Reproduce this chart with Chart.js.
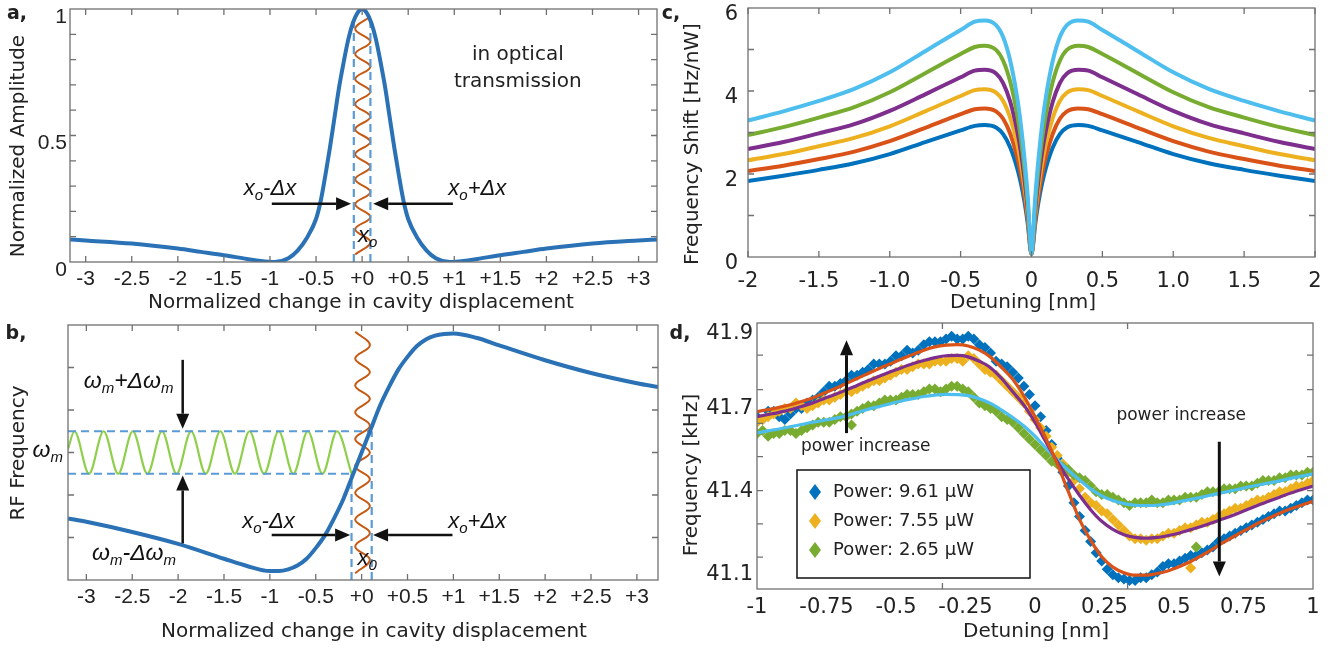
<!DOCTYPE html>
<html>
<head>
<meta charset="utf-8">
<script src="https://cdn.jsdelivr.net/npm/chart.js@4.4.1/dist/chart.umd.min.js"></script>
<style>
  html, body { margin: 0; padding: 0; background: #fff; }
  body { width: 1331px; height: 651px; position: relative; overflow: hidden; }
  canvas { position: absolute; }
</style>
</head>
<body>
<canvas id="panelA"></canvas>
<canvas id="panelB"></canvas>
<canvas id="panelC"></canvas>
<canvas id="panelD"></canvas>
<script>
// ---------- data: panel a (optical transmission) ----------
const aX = [-3.17, -3.0, -2.5, -2.0, -1.75, -1.5, -1.25, -1.1, -0.95, -0.8, -0.7, -0.6, -0.5, -0.45, -0.4, -0.35, -0.3, -0.25, -0.2, -0.15,
            -0.1, -0.05, 0, 0.05, 0.1, 0.15, 0.2, 0.25, 0.3, 0.35, 0.4, 0.45, 0.5, 0.6, 0.7, 0.8, 0.95, 1.1, 1.25, 1.5, 1.75, 2.0, 2.5, 3.0, 3.2]
const aAmp = [0.089, 0.085, 0.073, 0.053, 0.040, 0.027, 0.012, 0.004, 0.000, 0.015, 0.045, 0.095, 0.170, 0.240, 0.340, 0.450, 0.570, 0.690, 0.790, 0.880,
              0.945, 0.985, 1.000, 0.985, 0.945, 0.880, 0.790, 0.690, 0.570, 0.450, 0.340, 0.240, 0.170, 0.095, 0.045, 0.015, 0.000, 0.004, 0.012, 0.027, 0.040, 0.053, 0.073, 0.085, 0.089]
const aWaveX = [-0.075, 0.09, -0.075, 0.09, -0.075, 0.09, -0.075, 0.09, -0.075, 0.09, -0.075, 0.09, -0.075, 0.09, -0.075, 0.09, -0.075, 0.09, -0.075, 0.09]
const aWaveY = [0.03, 0.079, 0.129, 0.178, 0.228, 0.277, 0.327, 0.376, 0.426, 0.475, 0.525, 0.574, 0.624, 0.673, 0.723, 0.772, 0.822, 0.871, 0.921, 0.97]
const aDashX = [-0.09, 0.09]
const aDashY = [0, 0.95]
const abXTicks = [-3, -2.5, -2, -1.5, -1, -0.5, 0, 0.5, 1, 1.5, 2, 2.5, 3]
const abXLabels = ['-3', '-2.5', '-2', '-1.5', '-1', '-0.5', '+0', '+0.5', '+1', '+1.5', '+2', '+2.5', '+3']
const aYTicks = [0, 0.5, 1]
const aYLabels = ['0', '0.5', '1']
const aYMarks = [0.1, 0.2, 0.3, 0.4, 0.5, 0.6, 0.7, 0.8, 0.9]

// ---------- data: panel b (RF frequency) ----------
const bX = [-3.2, -3.0, -2.5, -2.0, -1.5, -1.25, -1.0, -0.9, -0.8, -0.7, -0.6, -0.5, -0.4, -0.3, -0.2, -0.1, 0,
            0.1, 0.2, 0.3, 0.4, 0.5, 0.6, 0.7, 0.8, 0.9, 1.0, 1.25, 1.5, 2.0, 2.5, 3.0, 3.23]
const bFreq = [1.45, 1.37, 1.13, 0.85, 0.50, 0.33, 0.21, 0.21, 0.25, 0.34, 0.50, 0.75, 1.05, 1.45, 1.90, 2.45, 3.00,
               3.55, 4.10, 4.55, 4.95, 5.25, 5.50, 5.66, 5.75, 5.79, 5.80, 5.70, 5.52, 5.17, 4.87, 4.63, 4.54]
const bWaveX = [-0.07, 0.09, -0.07, 0.09, -0.07, 0.09, -0.07, 0.09, -0.07, 0.09, -0.07, 0.09, -0.07, 0.09, -0.07, 0.09, -0.07, 0.09, -0.07]
const bWaveY = [0.16, 0.476, 0.791, 1.107, 1.422, 1.738, 2.053, 2.369, 2.684, 3.0, 3.316, 3.631, 3.947, 4.262, 4.578, 4.893, 5.209, 5.524, 5.84]
const bGreenX = [-3.2, -3.13, -2.971, -2.812, -2.653, -2.494, -2.335, -2.176, -2.017, -1.858, -1.699,
                 -1.540, -1.381, -1.222, -1.063, -0.904, -0.745, -0.586, -0.427, -0.268, -0.109]
const bGreenY = [3.08, 3.5, 2.5, 3.5, 2.5, 3.5, 2.5, 3.5, 2.5, 3.5, 2.5, 3.5, 2.5, 3.5, 2.5, 3.5, 2.5, 3.5, 2.5, 3.5, 2.5]
const bLevels = [2.5, 3.5]          // omega_m - d omega, omega_m + d omega
const bEdgeX = [-0.11, 0.11]        // x_o - dx, x_o + dx
const bYMarks = [1, 2, 3, 4, 5]

// ---------- data: panel c (frequency shift vs detuning) ----------
const cX = [-2, -1.75, -1.5, -1.25, -1, -0.75, -0.5, -0.4, -0.33, -0.25, -0.2, -0.15, -0.1, -0.075, -0.05, -0.025, -0.01, 0,
            0.01, 0.025, 0.05, 0.075, 0.1, 0.15, 0.2, 0.25, 0.33, 0.4, 0.5, 0.75, 1, 1.25, 1.5, 1.75, 2]
const cBlue = [1.83, 1.96, 2.10, 2.26, 2.48, 2.77, 3.05, 3.16, 3.18, 3.12, 2.96, 2.64, 2.13, 1.78, 1.34, 0.76, 0.25, 0.08,
               0.25, 0.76, 1.34, 1.78, 2.13, 2.64, 2.96, 3.12, 3.18, 3.16, 3.05, 2.77, 2.48, 2.26, 2.10, 1.96, 1.83]
const cOrange = [2.07, 2.20, 2.36, 2.54, 2.79, 3.11, 3.44, 3.56, 3.58, 3.51, 3.33, 2.97, 2.40, 2.00, 1.50, 0.86, 0.29, 0.08,
                 0.29, 0.86, 1.50, 2.00, 2.40, 2.97, 3.33, 3.51, 3.58, 3.56, 3.44, 3.11, 2.79, 2.54, 2.36, 2.20, 2.07]
const cYellow = [2.33, 2.48, 2.67, 2.87, 3.15, 3.51, 3.88, 4.02, 4.04, 3.96, 3.76, 3.35, 2.71, 2.26, 1.70, 0.97, 0.32, 0.08,
                 0.32, 0.97, 1.70, 2.26, 2.71, 3.35, 3.76, 3.96, 4.04, 4.02, 3.88, 3.51, 3.15, 2.87, 2.67, 2.48, 2.33]
const cPurple = [2.60, 2.77, 2.98, 3.20, 3.52, 3.92, 4.33, 4.49, 4.51, 4.42, 4.19, 3.74, 3.02, 2.53, 1.89, 1.08, 0.36, 0.08,
                 0.36, 1.08, 1.89, 2.53, 3.02, 3.74, 4.19, 4.42, 4.51, 4.49, 4.33, 3.92, 3.52, 3.20, 2.98, 2.77, 2.60]
const cGreen = [2.94, 3.13, 3.36, 3.61, 3.97, 4.43, 4.89, 5.06, 5.09, 4.99, 4.73, 4.22, 3.41, 2.85, 2.14, 1.22, 0.41, 0.08,
                0.41, 1.22, 2.14, 2.85, 3.41, 4.22, 4.73, 4.99, 5.09, 5.06, 4.89, 4.43, 3.97, 3.61, 3.36, 3.13, 2.94]
const cCyan = [3.29, 3.51, 3.76, 4.05, 4.45, 4.96, 5.47, 5.67, 5.70, 5.59, 5.30, 4.73, 3.82, 3.19, 2.39, 1.37, 0.46, 0.08,
               0.46, 1.37, 2.39, 3.19, 3.82, 4.73, 5.30, 5.59, 5.70, 5.67, 5.47, 4.96, 4.45, 4.05, 3.76, 3.51, 3.29]
const cXTicks = [-2, -1.5, -1, -0.5, 0, 0.5, 1, 1.5, 2]
const cXLabels = ['-2', '-1.5', '-1.0', '-0.5', '0', '0.5', '1.0', '1.5', '2']
const cYTicks = [0, 2, 4, 6]
const cYLabels = ['0', '2', '4', '6']
const cYMarks = [1, 2, 3, 4, 5]

// ---------- data: panel d (measured frequency, kHz) ----------
const dX = [-1, -0.96, -0.92, -0.88, -0.84, -0.8, -0.76, -0.72, -0.68, -0.64, -0.6, -0.56, -0.52, -0.48, -0.44, -0.4, -0.36, -0.32, -0.28, -0.24,
            -0.2, -0.16, -0.12, -0.08, -0.04, 0, 0.04, 0.08, 0.12, 0.16, 0.2, 0.24, 0.28, 0.32, 0.36, 0.4, 0.44, 0.48, 0.52, 0.56,
            0.6, 0.64, 0.68, 0.72, 0.76, 0.8, 0.84, 0.88, 0.92, 0.96, 1]
const dBlue = [41.67, 41.69, 41.67, 41.68, 41.70, 41.73, 41.76, 41.78, 41.80, 41.82, 41.84, 41.86, 41.87, 41.89, 41.90, 41.93, 41.94, 41.95, 41.95, 41.96,
               41.93, 41.90, 41.86, 41.83, 41.78, 41.71, 41.62, 41.52, 41.42, 41.31, 41.22, 41.15, 41.10, 41.085, 41.08, 41.09, 41.11, 41.14, 41.15, 41.17,
               41.18, 41.20, 41.23, 41.25, 41.27, 41.29, 41.31, 41.33, 41.34, 41.36, 41.37]
const dYellow = [41.65, 41.67, 41.69, 41.70, 41.71, 41.71, 41.73, 41.74, 41.76, 41.77, 41.79, 41.80, 41.82, 41.84, 41.85, 41.86, 41.87, 41.87, 41.88, 41.89,
                 41.86, 41.83, 41.80, 41.76, 41.72, 41.66, 41.60, 41.53, 41.47, 41.41, 41.36, 41.33, 41.30, 41.26, 41.23, 41.225, 41.23, 41.25, 41.26, 41.27,
                 41.29, 41.30, 41.32, 41.34, 41.35, 41.37, 41.38, 41.40, 41.41, 41.42, 41.44]
const dGreen = [41.61, 41.60, 41.61, 41.62, 41.62, 41.64, 41.65, 41.66, 41.67, 41.69, 41.71, 41.72, 41.73, 41.74, 41.75, 41.76, 41.77, 41.77, 41.78, 41.76,
                41.72, 41.70, 41.67, 41.65, 41.61, 41.57, 41.53, 41.50, 41.48, 41.45, 41.42, 41.39, 41.38, 41.36, 41.36, 41.36, 41.36, 41.37, 41.37, 41.38,
                41.39, 41.40, 41.41, 41.41, 41.42, 41.43, 41.44, 41.45, 41.46, 41.46, 41.47]
// second sweep of samples, taken between the first ones
const dX2 = [-0.98, -0.94, -0.9, -0.86, -0.82, -0.78, -0.74, -0.7, -0.66, -0.62, -0.58, -0.54, -0.5, -0.46, -0.42, -0.38, -0.34, -0.3, -0.26, -0.22,
             -0.18, -0.14, -0.1, -0.06, -0.02, 0.02, 0.06, 0.1, 0.14, 0.18, 0.22, 0.26, 0.3, 0.34, 0.38, 0.42, 0.46, 0.5, 0.54, 0.58,
             0.62, 0.66, 0.7, 0.74, 0.78, 0.82, 0.86, 0.9, 0.94, 0.98]
const dBlue2 = [41.66, 41.69, 41.66, 41.70, 41.72, 41.74, 41.78, 41.79, 41.82, 41.83, 41.86, 41.86, 41.89, 41.91, 41.91, 41.94, 41.94, 41.96, 41.95, 41.95,
                41.92, 41.87, 41.85, 41.81, 41.75, 41.67, 41.57, 41.47, 41.36, 41.26, 41.18, 41.12, 41.09, 41.08, 41.09, 41.10, 41.13, 41.14, 41.16, 41.17,
                41.19, 41.22, 41.24, 41.26, 41.28, 41.30, 41.32, 41.33, 41.35, 41.37]
const dYellow2 = [41.66, 41.68, 41.70, 41.72, 41.70, 41.72, 41.73, 41.75, 41.76, 41.78, 41.80, 41.81, 41.83, 41.84, 41.86, 41.86, 41.87, 41.88, 41.87, 41.88,
                  41.84, 41.82, 41.78, 41.74, 41.69, 41.63, 41.56, 41.50, 41.44, 41.38, 41.35, 41.32, 41.28, 41.24, 41.23, 41.23, 41.24, 41.25, 41.27, 41.28,
                  41.29, 41.31, 41.33, 41.34, 41.36, 41.37, 41.39, 41.40, 41.42, 41.43]
const dGreen2 = [41.62, 41.61, 41.62, 41.61, 41.63, 41.65, 41.65, 41.67, 41.68, 41.70, 41.71, 41.73, 41.73, 41.75, 41.75, 41.77, 41.76, 41.78, 41.77, 41.74,
                 41.71, 41.69, 41.66, 41.63, 41.59, 41.55, 41.51, 41.49, 41.46, 41.44, 41.40, 41.39, 41.37, 41.35, 41.36, 41.37, 41.36, 41.37, 41.38, 41.38,
                 41.40, 41.40, 41.41, 41.42, 41.42, 41.44, 41.44, 41.45, 41.46, 41.47]
const dStrayYellowX = [0.56]
const dStrayYellowY = [41.125]
const dStrayGreenX = [-0.66, 0.58]
const dStrayGreenY = [41.64, 41.20]
const dFitOrange = [41.688, 41.696, 41.704, 41.713, 41.725, 41.738, 41.755, 41.771, 41.789, 41.808, 41.826, 41.844, 41.861, 41.878, 41.894, 41.910, 41.922, 41.928, 41.930, 41.925,
                    41.910, 41.885, 41.848, 41.805, 41.745, 41.670, 41.590, 41.500, 41.400, 41.300, 41.225, 41.165, 41.128, 41.108, 41.099, 41.099, 41.105, 41.115, 41.130, 41.148,
                    41.170, 41.194, 41.218, 41.241, 41.263, 41.285, 41.304, 41.322, 41.338, 41.352, 41.365]
const dFitPurple = [41.670, 41.678, 41.686, 41.695, 41.707, 41.720, 41.735, 41.750, 41.766, 41.783, 41.800, 41.816, 41.832, 41.847, 41.861, 41.873, 41.883, 41.890, 41.891, 41.886,
                    41.870, 41.847, 41.808, 41.760, 41.712, 41.650, 41.578, 41.508, 41.445, 41.387, 41.335, 41.293, 41.264, 41.245, 41.235, 41.232, 41.235, 41.242, 41.251, 41.263,
                    41.275, 41.289, 41.303, 41.318, 41.334, 41.350, 41.365, 41.380, 41.395, 41.408, 41.420]
const dFitCyan = [41.612, 41.619, 41.626, 41.634, 41.642, 41.650, 41.657, 41.664, 41.673, 41.685, 41.697, 41.707, 41.717, 41.727, 41.735, 41.743, 41.748, 41.751, 41.750, 41.746,
                  41.735, 41.718, 41.694, 41.667, 41.637, 41.600, 41.556, 41.515, 41.477, 41.442, 41.410, 41.385, 41.368, 41.357, 41.351, 41.350, 41.351, 41.356, 41.364, 41.372,
                  41.380, 41.389, 41.398, 41.406, 41.415, 41.423, 41.431, 41.439, 41.448, 41.456, 41.464]
const dLegend = ['Power: 9.61 μW', 'Power: 7.55 μW', 'Power: 2.65 μW']
const dXTicks = [-1, -0.75, -0.5, -0.25, 0, 0.25, 0.5, 0.75, 1]
const dXLabels = ['-1', '-0.75', '-0.5', '-0.25', '0', '0.25', '0.5', '0.75', '1']
// the reference prints its top label "41.9" right under the frame top
const dYTicks = [41.1, 41.4, 41.7, 41.97]
const dYLabels = ['41.1', '41.4', '41.7', '41.9']
const dXMarks = [-0.333, 0.333]
const dYMarks = [41.164, 41.284, 41.404, 41.526, 41.646, 41.768, 41.892]

// ---------- layout (page pixels): canvas box [left, top, w, h], plot area [l, t, r, b] ----------
const layA = {box: [0, -20, 690, 345], area: [70, 9, 657, 262]}
const layB = {box: [0, 300, 690, 355], area: [68, 325, 658, 580]}
const layC = {box: [650, -20, 690, 345], area: [748, 8, 1315, 257]}
const layD = {box: [650, 300, 690, 355], area: [757, 323, 1313, 589]}

const SANS = "'DejaVu Sans', sans-serif"
const ARIAL = "'Liberation Sans', Arial, sans-serif"
const INK = '#222'
const COL = {blue: '#0072BD', orange: '#D95319', yellow: '#EDB120', purple: '#7E2F8E', green: '#77AC30', cyan: '#4DBEEE'}

function pts(xs, ys) {
    return xs.map((x, i) => ({x: x, y: ys[i]}))
}

function lineSet(xs, ys, color, width, extra) {
    return Object.assign({
        data: pts(xs, ys), showLine: true, borderColor: color, borderWidth: width,
        pointRadius: 0, fill: false, cubicInterpolationMode: 'monotone'
    }, extra || {})
}

function dashSet(xs, ys) {
    return lineSet(xs, ys, '#5b9bd5', 2.2, {cubicInterpolationMode: 'default', tension: 0, borderDash: [8, 5]})
}

function axis(min, max, ticks, labels, font, pad, offset) {
    return {
        type: 'linear', min: min, max: max,
        afterBuildTicks: s => { s.ticks = ticks.map(v => ({value: v})) },
        grid: {display: false, drawTicks: false},
        border: {display: false},
        ticks: {
            display: labels.length > 0, autoSkip: false, maxRotation: 0, padding: pad,
            labelOffset: offset || 0, color: INK, font: font,
            callback: (v, i) => labels[i]
        }
    }
}

function arrow(ctx, x1, y1, x2, y2, w) {
    const ang = Math.atan2(y2 - y1, x2 - x1), hl = 15, hw = 6.5
    const c = Math.cos(ang), s = Math.sin(ang)
    ctx.lineWidth = w
    ctx.beginPath()
    ctx.moveTo(x1, y1)
    ctx.lineTo(x2 - hl * c, y2 - hl * s)
    ctx.stroke()
    ctx.beginPath()
    ctx.moveTo(x2, y2)
    ctx.lineTo(x2 - hl * c + hw * s, y2 - hl * s - hw * c)
    ctx.lineTo(x2 - hl * c - hw * s, y2 - hl * s + hw * c)
    ctx.closePath()
    ctx.fill()
}

// parts: [text, size, baseline shift]
function mathText(ctx, parts, x, y, align) {
    let w = 0
    parts.forEach(p => { ctx.font = 'italic ' + p[1] + 'px ' + ARIAL; w += ctx.measureText(p[0]).width })
    let cx = align === 'center' ? x - w / 2 : (align === 'right' ? x - w : x)
    ctx.textAlign = 'left'
    ctx.textBaseline = 'alphabetic'
    parts.forEach(p => {
        ctx.font = 'italic ' + p[1] + 'px ' + ARIAL
        ctx.fillText(p[0], cx, y + p[2])
        cx += ctx.measureText(p[0]).width
    })
}

function pageText(ctx, box, text, px, py, font, align, rot) {
    ctx.save()
    ctx.font = font
    ctx.fillStyle = INK
    ctx.textAlign = align || 'center'
    ctx.textBaseline = 'middle'
    ctx.translate(px - box[0], py - box[1])
    if (rot) ctx.rotate(-Math.PI / 2)
    ctx.fillText(text, 0, 0)
    ctx.restore()
}

function framePlugin(xMarks, yMarks, drawExtra) {
    return {
        id: 'frame',
        afterDatasetsDraw(chart) {
            const ctx = chart.ctx, a = chart.chartArea, sx = chart.scales.x, sy = chart.scales.y
            ctx.save()
            ctx.strokeStyle = '#707070'
            ctx.lineWidth = 1.3
            ctx.strokeRect(a.left, a.top, a.right - a.left, a.bottom - a.top)
            ctx.beginPath()
            xMarks.forEach(v => {
                const p = sx.getPixelForValue(v)
                ctx.moveTo(p, a.bottom); ctx.lineTo(p, a.bottom - 6)
                ctx.moveTo(p, a.top); ctx.lineTo(p, a.top + 6)
            })
            yMarks.forEach(v => {
                const p = sy.getPixelForValue(v)
                ctx.moveTo(a.left, p); ctx.lineTo(a.left + 6, p)
                ctx.moveTo(a.right, p); ctx.lineTo(a.right - 6, p)
            })
            ctx.stroke()
            ctx.restore()
            ctx.save()
            ctx.fillStyle = '#111'
            ctx.strokeStyle = '#111'
            drawExtra(ctx, v => sx.getPixelForValue(v), v => sy.getPixelForValue(v))
            ctx.restore()
        }
    }
}

function createPanel(id, lay, datasets, xAxis, yAxis, xMarks, yMarks, drawExtra) {
    const box = lay.box, area = lay.area
    const canvas = document.getElementById(id)
    canvas.width = box[2]
    canvas.height = box[3]
    canvas.style.left = box[0] + 'px'
    canvas.style.top = box[1] + 'px'
    xAxis.afterFit = s => { s.height = box[1] + box[3] - area[3] }
    yAxis.afterFit = s => { s.width = area[0] - box[0] }
    return new Chart(canvas, {
        type: 'scatter',
        data: {datasets: datasets},
        options: {
            responsive: false, animation: false, events: [],
            layout: {padding: {left: 0, top: area[1] - box[1], right: box[0] + box[2] - area[2], bottom: 0}},
            plugins: {legend: {display: false}, tooltip: {enabled: false}},
            scales: {x: xAxis, y: yAxis}
        },
        plugins: [framePlugin(xMarks, yMarks, drawExtra)]
    })
}

const tickAB = {family: ARIAL, size: 21}
const tickCD = {family: SANS, size: 21}
const titleFont = '20px ' + SANS
const letterFont = 'bold 19px ' + SANS
const X_MINUS = [['x', 22, 0], ['o', 15, 5], ['-Δx', 22, 0]]
const X_PLUS = [['x', 22, 0], ['o', 15, 5], ['+Δx', 22, 0]]

// ---------- panel a ----------
createPanel('panelA', layA, [
    lineSet(aX, aAmp, '#2a72b5', 4, {order: 0}),
    lineSet(aWaveX, aWaveY, '#c65911', 2, {cubicInterpolationMode: 'default', tension: 0.4, order: 1}),
    dashSet([aDashX[0], aDashX[0]], aDashY),
    dashSet([aDashX[1], aDashX[1]], aDashY)
], axis(-3.17, 3.2, abXTicks, abXLabels, tickAB, 5), axis(0, 1, aYTicks, aYLabels, tickAB, 3, 8),
abXTicks, aYMarks, (ctx, px, py) => {
    const box = layA.box
    arrow(ctx, px(-0.98), py(0.23), px(-0.12), py(0.23), 2.5)
    arrow(ctx, px(0.985), py(0.23), px(0.12), py(0.23), 2.5)
    mathText(ctx, X_MINUS, px(-1.0), py(0.265), 'center')
    mathText(ctx, X_PLUS, px(1.25), py(0.265), 'center')
    mathText(ctx, [['x', 22, 0], ['o', 15, 5]], px(-0.045), py(0.079), 'left')
    ctx.font = '20px ' + SANS
    ctx.fillStyle = INK
    ctx.textAlign = 'center'
    ctx.textBaseline = 'middle'
    ctx.fillText('in optical', px(1.69), py(0.819))
    ctx.fillText('transmission', px(1.69), py(0.713))
    pageText(ctx, box, 'Normalized change in cavity displacement', 361, 303, titleFont)
    pageText(ctx, box, 'Normalized Amplitude', 19, 146, titleFont, 'center', true)
    pageText(ctx, box, 'a,', 17, 14, letterFont)
})

// ---------- panel b ----------
createPanel('panelB', layB, [
    lineSet(bX, bFreq, '#2a72b5', 4, {order: 0}),
    lineSet(bWaveX, bWaveY, '#c65911', 2, {cubicInterpolationMode: 'default', tension: 0.4, order: 1}),
    lineSet(bGreenX, bGreenY, '#8fcf4c', 2.2, {order: 2}),
    dashSet([-3.2, bEdgeX[1]], [bLevels[1], bLevels[1]]),
    dashSet([-3.2, bEdgeX[0]], [bLevels[0], bLevels[0]]),
    dashSet([bEdgeX[0], bEdgeX[0]], [0, bLevels[0]]),
    dashSet([bEdgeX[1], bEdgeX[1]], [0, bLevels[1]])
], axis(-3.2, 3.23, abXTicks, abXLabels, tickAB, 5), axis(0, 6, [], [], tickAB, 3),
abXTicks, bYMarks, (ctx, px, py) => {
    const box = layB.box
    arrow(ctx, px(-1.95), py(5.18), px(-1.95), py(3.56), 2.5)
    arrow(ctx, px(-1.95), py(0.86), px(-1.95), py(2.46), 2.5)
    arrow(ctx, px(-0.98), py(1.06), px(-0.125), py(1.06), 2.5)
    arrow(ctx, px(0.99), py(1.06), px(0.125), py(1.06), 2.5)
    mathText(ctx, [['ω', 23, 0], ['m', 15, 5], ['+Δω', 23, 0], ['m', 15, 5]], px(-2.54), py(4.52), 'center')
    mathText(ctx, [['ω', 23, 0], ['m', 15, 5], ['-Δω', 23, 0], ['m', 15, 5]], px(-2.48), py(0.47), 'center')
    mathText(ctx, X_MINUS, px(-1.015), py(1.22), 'center')
    mathText(ctx, X_PLUS, px(1.26), py(1.22), 'center')
    mathText(ctx, [['x', 22, 0], ['0', 15, 5]], px(-0.045), py(0.35), 'left')
    mathText(ctx, [['ω', 23, 0], ['m', 15, 5]], px(-3.2) - 5, py(3.0) + 4, 'right')
    pageText(ctx, box, 'Normalized change in cavity displacement', 374, 632, titleFont)
    pageText(ctx, box, 'RF Frequency', 19, 453, titleFont, 'center', true)
    pageText(ctx, box, 'b,', 16, 334, letterFont)
})

// ---------- panel c ----------
createPanel('panelC', layC, [
    lineSet(cX, cCyan, COL.cyan, 4, {order: 0}),
    lineSet(cX, cGreen, COL.green, 4, {order: 1}),
    lineSet(cX, cPurple, COL.purple, 4, {order: 2}),
    lineSet(cX, cYellow, COL.yellow, 4, {order: 3}),
    lineSet(cX, cOrange, COL.orange, 4, {order: 4}),
    lineSet(cX, cBlue, COL.blue, 4, {order: 5})
], axis(-2, 2, cXTicks, cXLabels, tickCD, 12), axis(0, 6, cYTicks, cYLabels, tickCD, 10, 7),
cXTicks, cYMarks, (ctx, px, py) => {
    const box = layC.box
    pageText(ctx, box, 'Detuning [nm]', 1023, 303, titleFont)
    pageText(ctx, box, 'Frequency Shift [Hz/nW]', 693, 144, titleFont, 'center', true)
    pageText(ctx, box, 'c,', 671, 14, letterFont)
})

// ---------- panel d ----------
function dots(xs, ys, color, order) {
    return {data: pts(xs, ys), showLine: false, pointStyle: 'rectRot', pointRadius: 5.5,
            backgroundColor: color, borderWidth: 0, order: order}
}

createPanel('panelD', layD, [
    lineSet(dX, dFitOrange, COL.orange, 3.2, {order: 0}),
    lineSet(dX, dFitPurple, COL.purple, 3.2, {order: 0}),
    lineSet(dX, dFitCyan, COL.cyan, 3.2, {order: 0}),
    dots(dX.concat(dX2, dStrayGreenX), dGreen.concat(dGreen2, dStrayGreenY), COL.green, 1),
    dots(dX.concat(dX2, dStrayYellowX), dYellow.concat(dYellow2, dStrayYellowY), COL.yellow, 2),
    dots(dX.concat(dX2), dBlue.concat(dBlue2), COL.blue, 3)
], axis(-1, 1, dXTicks, dXLabels, tickCD, 6), axis(41.049, 42.008, dYTicks, dYLabels, tickCD, 4),
dXMarks, dYMarks, (ctx, px, py) => {
    const box = layD.box
    arrow(ctx, px(-0.678), py(41.611), px(-0.678), py(41.946), 3)
    arrow(ctx, px(0.663), py(41.58), px(0.663), py(41.094), 3)
    ctx.font = '17px ' + SANS
    ctx.fillStyle = INK
    ctx.textAlign = 'center'
    ctx.textBaseline = 'middle'
    ctx.fillText('power increase', px(-0.609), py(41.561))
    ctx.fillText('power increase', px(0.526), py(41.676))
    // legend box
    const lx = 797 - box[0], ly = 470 - box[1]
    ctx.fillStyle = '#fff'
    ctx.fillRect(lx, ly, 233, 108)
    ctx.strokeStyle = '#111'
    ctx.lineWidth = 1.5
    ctx.strokeRect(lx, ly, 233, 108)
    const legCols = [COL.blue, COL.yellow, COL.green]
    dLegend.forEach((t, i) => {
        const cy = ly + 22 + i * 29, cx = lx + 18
        ctx.fillStyle = legCols[i]
        ctx.beginPath()
        ctx.moveTo(cx, cy - 8); ctx.lineTo(cx + 6, cy); ctx.lineTo(cx, cy + 8); ctx.lineTo(cx - 6, cy)
        ctx.closePath()
        ctx.fill()
        ctx.fillStyle = INK
        ctx.font = '18px ' + SANS
        ctx.textAlign = 'left'
        ctx.textBaseline = 'middle'
        ctx.fillText(t, lx + 36, cy)
    })
    pageText(ctx, box, 'Detuning [nm]', 1036, 632, titleFont)
    pageText(ctx, box, 'Frequency [kHz]', 692, 475, titleFont, 'center', true)
    pageText(ctx, box, 'd,', 680, 334, letterFont)
})
</script>
</body>
</html>
